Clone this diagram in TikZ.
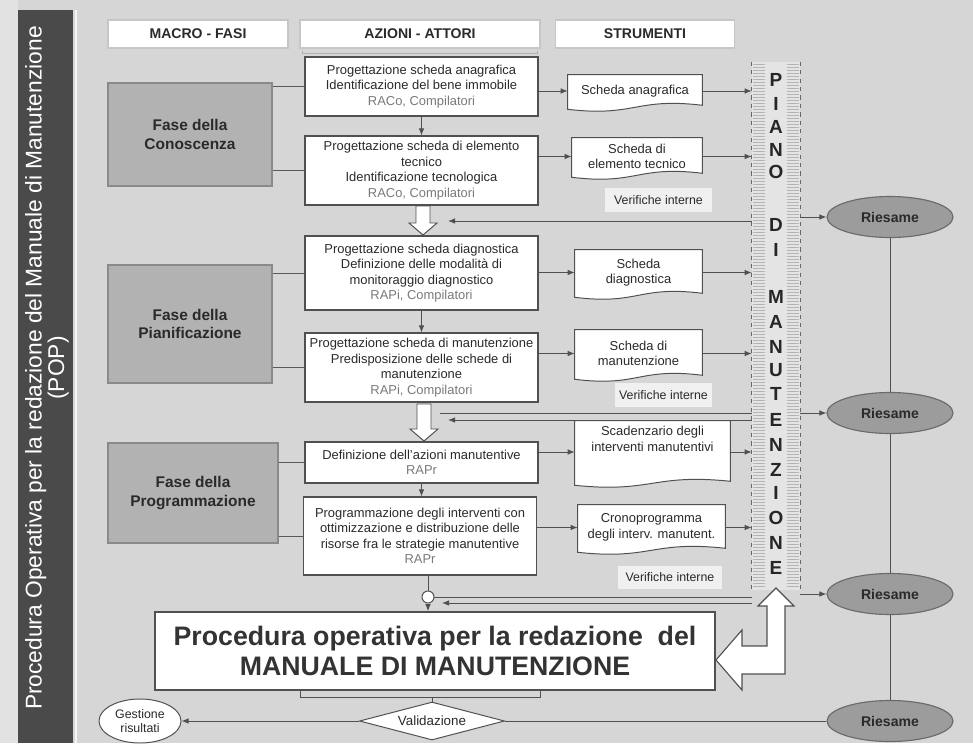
\documentclass[tikz,border=0pt]{standalone}
\usepackage{fontspec}
\setmainfont{Liberation Sans}
\usetikzlibrary{arrows.meta,shapes.geometric,calc}
\pgfdeclarelayer{bg}
\pgfsetlayers{bg,main}
\newdimen\pxu \pxu=0.025cm
\definecolor{bgc}{HTML}{D6D6D6}
\definecolor{marginc}{HTML}{E2E2E2}
\definecolor{stripc}{HTML}{4A4A4A}
\definecolor{phasec}{HTML}{B2B2B2}
\definecolor{phaseb}{HTML}{8A8A8A}
\definecolor{ellc}{HTML}{9C9C9C}
\definecolor{ellb}{HTML}{6A6A6A}
\definecolor{linec}{HTML}{505050}
\definecolor{txtc}{HTML}{2A2A2A}
\definecolor{subc}{HTML}{7A7A7A}
\definecolor{colc}{HTML}{E4E4E4}
\definecolor{stripec}{HTML}{B4B4B4}
\newcommand\docbox[1]{\begin{pgfonlayer}{bg}\draw[docline] (#1.north west) -- (#1.north east) -- ($(#1.south east)+(0,-2)$) .. controls ($(#1.south)+(0,-10)$) and ($(#1.south)+(0,10)$) .. ($(#1.south west)+(0,2)$) -- cycle;\end{pgfonlayer}}
\newcommand\hdown[3]{\draw[conn,fill=white] ({#1-7},#2) -- ({#1+7},#2) -- ({#1+7},{#3-12}) -- ({#1+14},{#3-12}) -- (#1,#3) -- ({#1-14},{#3-12}) -- ({#1-7},{#3-12}) -- cycle;}
\begin{document}
\begin{tikzpicture}[x=0.025cm,y=-0.025cm,
  every node/.style={inner sep=0pt, text=txtc},
  wh/.style 2 args={minimum width=#1*\pxu, minimum height=#2*\pxu},
  hdr/.style={draw=gray!45, fill=white, line width=0.8pt, font=\fontsize{10}{12}\selectfont\bfseries},
  phase/.style={draw=phaseb, fill=phasec, line width=1pt, font=\fontsize{11}{13}\selectfont\bfseries, align=center},
  act/.style={draw=linec, fill=white, line width=0.8pt, font=\fontsize{9.2}{11}\selectfont, align=center},
  doc/.style={align=center, font=\fontsize{9.2}{11}\selectfont},
  docline/.style={draw=linec, fill=white, line width=0.7pt},
  verif/.style={fill=white!88!gray, font=\fontsize{8.8}{10}\selectfont},
  riesame/.style={ellipse, draw=ellb, fill=ellc, line width=0.8pt, minimum width=126*\pxu, minimum height=41*\pxu, font=\fontsize{10}{12}\selectfont\bfseries},
  conn/.style={draw=linec, line width=0.7pt},
  thinc/.style={draw=gray!70!black, line width=0.6pt},
  arr/.style={conn, -{Latex[length=5pt,width=4pt]}},
  letter/.style={font=\fontsize{13.5}{15}\selectfont\bfseries, text=black!85},
]
\useasboundingbox (0,0) rectangle (973,743);
\begin{pgfonlayer}{bg}
\fill[bgc] (0,0) rectangle (973,743);
\fill[marginc] (0,0) rectangle (18,743);
\end{pgfonlayer}
% left strip
\fill[stripc] (18,10) rectangle (73,743);
\draw[white!92!gray, line width=1.2pt] (76,10) -- (76,743);
\node[rotate=90, align=center, text=white, font=\fontsize{16.2}{13.5}\selectfont] (title) at (47,368) {Procedura Operativa per la redazione del Manuale di Manutenzione\\(POP)};

% headers
\node[hdr, wh={180}{28}] (h1) at (198,34) {MACRO - FASI};
\node[hdr, wh={240}{28}] (h2) at (420,34) {AZIONI - ATTORI};
\node[hdr, wh={179}{28}] (h3) at (645,34) {STRUMENTI};
\draw[gray!60, line width=0.5pt] ($(h2.south west)+(3,2)$) -- ($(h2.south west)+(3,5)$) -- ($(h2.south east)+(-3,5)$) -- ($(h2.south east)+(-3,2)$);

% phases
\node[phase, wh={164}{103}] (p1) at (190,134.5) {Fase della\\Conoscenza};
\node[phase, wh={164}{118}] (p2) at (190,324) {Fase della\\Pianificazione};
\node[phase, wh={170}{100}] (p3) at (193,493) {Fase della\\Programmazione};

% actions
\node[act, wh={233}{59}] (b1) at (421.5,86.5) {Progettazione scheda anagrafica\\Identificazione del bene immobile\\\textcolor{subc}{RACo, Compilatori}};
\node[act, wh={233}{69}] (b2) at (421.5,170.5) {Progettazione scheda di elemento\\tecnico\\Identificazione tecnologica\\\textcolor{subc}{RACo, Compilatori}};
\node[act, wh={233}{74}] (b3) at (421.5,273) {Progettazione scheda diagnostica\\Definizione delle modalità di\\monitoraggio diagnostico\\\textcolor{subc}{RAPi, Compilatori}};
\node[act, wh={233}{69}] (b4) at (421.5,367.5) {Progettazione scheda di manutenzione\\Predisposizione delle schede di\\manutenzione\\\textcolor{subc}{RAPi, Compilatori}};
\node[act, wh={233}{41}] (b5) at (421.5,462.5) {Definizione dell'azioni manutentive\\\textcolor{subc}{RAPr}};
\node[act, wh={233}{78}] (b6) at (420,536) {Programmazione degli interventi con\\ottimizzazione e distribuzione delle\\risorse fra le strategie manutentive\\\textcolor{subc}{RAPr}};

% tools
\node[doc, wh={134}{32}] (sA) at (635,91) {Scheda anagrafica};
\docbox{sA}
\node[doc, wh={130}{37}] (sB) at (637,156.5) {Scheda di\\elemento tecnico};
\docbox{sB}
\node[verif, wh={107}{24}] (v1) at (658.5,200) {Verifiche interne};
\node[doc, wh={127}{45}] (sC) at (638.5,272.5) {Scheda\\diagnostica};
\docbox{sC}
\node[doc, wh={127}{47}] (sD) at (638.5,353.5) {Scheda di\\manutenzione};
\docbox{sD}
\node[verif, wh={97}{24}] (v2) at (663.5,395) {Verifiche interne};
\node[doc, wh={155}{62}] (sE) at (652.5,452) {Scadenzario degli\\interventi manutentivi\\[8pt]};
\docbox{sE}
\node[doc, wh={147}{45}] (sF) at (651.5,527.5) {Cronoprogramma\\degli interv. manutent.};
\docbox{sF}
\node[verif, wh={104}{23}] (v3) at (670,577) {Verifiche interne};

% piano column
\node[wh={48}{528}, fill=colc] (piano) at (776,326) {};
\foreach \yy in {64,67,...,588} {
  \draw[stripec, line width=0.4pt] (753,\yy) -- (765,\yy);
  \draw[stripec, line width=0.4pt] (787,\yy) -- (799,\yy);
}
\draw[gray!80!black, dashed, line width=0.7pt] (piano.north west) -- (piano.south west);
\draw[gray!80!black, dashed, line width=0.7pt] (piano.north east) -- (piano.south east);
\foreach \L/\yy [count=\i] in {P/80,I/104,A/127,N/150,O/172,D/225,I/250,M/297,A/322,N/347,U/370,T/394,E/420,N/445,Z/470,I/493,O/518,N/543,E/568}
  \node[letter] (L\i) at (776,\yy) {\L};

% ellipses
\node[riesame] (e1) at (890,217) {Riesame};
\node[riesame] (e2) at (890,413) {Riesame};
\node[riesame] (e3) at (890,594) {Riesame};
\node[riesame] (e4) at (890,721) {Riesame};
\draw[conn] (e1.south) -- (e2.north);
\draw[conn] (e2.south) -- (e3.north);
\draw[conn] (e3.south) -- (e4.north);

% connectors phase -> action
\foreach \p/\b in {p1/b1,p1/b2,p2/b3,p2/b4,p3/b5,p3/b6}
  \draw[thinc] (\p.east |- \b.west) -- (\b.west);
% action -> tool
\foreach \b/\s in {b1/sA,b2/sB,b3/sC,b4/sD,b5/sE,b6/sF}
  \draw[arr] (\b.east |- \s.west) -- (\s.west);
% tool -> piano
\foreach \s in {sA,sB,sC,sD,sE,sF}
  \draw[arr] (\s.east) -- (\s.east -| piano.west);

% vertical flow
\draw[arr] (b1.south) -- (b2.north);
\draw[arr] (b3.south) -- (b4.north);
\draw[arr] (b5.south) -- (b5.south |- b6.north);
\hdown{423}{206}{235}
\hdown{424}{404}{441}

% join circle and big box
\node[circle, draw=linec, fill=white, line width=0.7pt, minimum size=12*\pxu] (join) at (428,597) {};
\node[draw=linec, fill=white, line width=1.2pt, wh={560}{78}, align=center, font=\fontsize{19}{21}\selectfont\bfseries, text=black!80] (big) at (435,651) {Procedura operativa per la redazione\ \ del\\MANUALE DI MANUTENZIONE};
\draw[conn] (join |- b6.south) -- (join.north);
\draw[arr] (join.south) -- (join.south |- big.north);

% piano -> riesame
\foreach \e in {e1,e2,e3}
  \draw[arr] (piano.east |- \e.west) -- (\e.west);

% feedback lines
\coordinate (fb1) at (448,221);
\draw[arr] (piano.west |- fb1) -- (fb1);
\coordinate (fb2b) at (440,413);
\coordinate (fb2) at (448,420);
\draw[conn] (piano.west |- fb2b) -- (fb2b);
\draw[arr] (piano.west |- fb2) -- (fb2);
\coordinate (fb3) at (442,603);
\draw[conn] (piano.west |- join.east) -- (join.east);
\draw[arr] (piano.west |- fb3) -- (fb3);

% bent hollow arrow
\draw[conn, fill=white, line width=0.8pt] (776,588) -- (794,606) -- (785,606) -- (785,674) -- (742,674) -- (742,690) -- (716,660) -- (742,630) -- (742,646) -- (767,646) -- (767,606) -- (758,606) -- cycle;

% validation
\node[diamond, draw=linec, fill=white, line width=0.7pt, aspect=4, minimum width=145*\pxu, minimum height=38*\pxu, font=\fontsize{9.5}{11}\selectfont] (valid) at (432,721) {Validazione};
\node[ellipse, draw=linec, fill=white, line width=0.7pt, minimum width=82*\pxu, minimum height=44*\pxu, align=center, font=\fontsize{8.8}{10}\selectfont] (gest) at (140,721) {Gestione\\risultati};
\coordinate (brk) at (valid.north |- big.south);
\draw[conn] ($(big.south)+(-135,0)$) -- ($(big.south)+(-135,7)$) -- ($(big.south)+(105,7)$) -- ($(big.south)+(105,0)$);
\draw[conn] ($(brk)+(0,7)$) -- (valid.north);
\draw[arr] (valid.west) -- (gest.east);
\draw[conn] (valid.east) -- (e4.west);
\end{tikzpicture}
\end{document}
